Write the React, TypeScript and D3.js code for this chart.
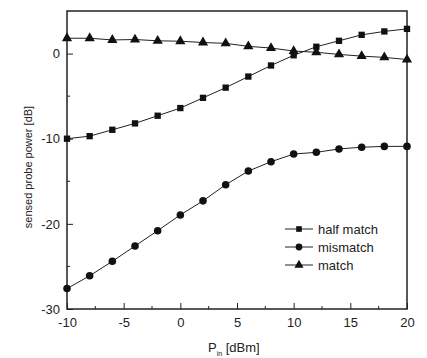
import { useEffect, useRef } from "react";
import * as d3 from "d3";

const pin = [-10, -8, -6, -4, -2, 0, 2, 4, 6, 8, 10, 12, 14, 16, 18, 20];
const halfMatch = [-10.0, -9.7, -8.95, -8.2, -7.3, -6.4, -5.2, -4.0, -2.7, -1.4, -0.2, 0.8, 1.5, 2.2, 2.6, 2.9];
const mismatch = [-27.6, -26.1, -24.4, -22.6, -20.8, -18.95, -17.3, -15.4, -13.8, -12.7, -11.8, -11.6, -11.2, -11.0, -10.9, -10.9];
const match = [1.8, 1.8, 1.6, 1.65, 1.5, 1.45, 1.3, 1.2, 0.85, 0.65, 0.3, 0.15, -0.1, -0.3, -0.45, -0.7];
const seriesNames = ["half match", "mismatch", "match"];
const xTicks = [-10, -5, 0, 5, 10, 15, 20];
const yTicks = [-30, -20, -10, 0];

const App = () => {
  const svgRef = useRef<SVGSVGElement>(null);

  useEffect(() => {
    const width = 427;
    const height = 358;
    const marginLeft = 67;
    const marginRight = 20;
    const marginTop = 11;
    const marginBottom = 49;
    const font = "Liberation Sans, Arial, sans-serif";
    const fs = 13;

    const svg = d3.select(svgRef.current);
    svg.selectAll("*").remove();

    const x = d3.scaleLinear().domain([-10, 20]).range([marginLeft, width - marginRight]);
    const y = d3.scaleLinear().domain([-30, 5]).range([height - marginBottom, marginTop]);

    const color = "#222";
    const symbols = [d3.symbolSquare, d3.symbolCircle, d3.symbolTriangle];
    const sizes = [40, 45, 45];
    const all = [halfMatch, mismatch, match];
    const fmt = (d: number) => String(d);

    // x axis (ticks inward)
    const xAxis = svg.append("g")
      .attr("transform", `translate(0,${height - marginBottom})`)
      .call(d3.axisBottom(x).tickValues(xTicks).tickFormat(fmt as any).tickSizeInner(-6).tickSizeOuter(0).tickPadding(9));
    xAxis.select(".domain").remove();
    xAxis.selectAll("text").attr("font-size", fs).attr("font-family", font).attr("fill", "#222");
    xAxis.selectAll("line").attr("stroke", "#222");
    svg.append("g")
      .selectAll("line")
      .data(d3.range(-7.5, 20, 5))
      .join("line")
      .attr("x1", d => x(d)).attr("x2", d => x(d))
      .attr("y1", height - marginBottom).attr("y2", height - marginBottom - 3)
      .attr("stroke", "#222");

    // y axis
    const yAxis = svg.append("g")
      .attr("transform", `translate(${marginLeft},0)`)
      .call(d3.axisLeft(y).tickValues(yTicks).tickFormat(fmt as any).tickSizeInner(-6).tickSizeOuter(0).tickPadding(7));
    yAxis.select(".domain").remove();
    yAxis.selectAll("text").attr("font-size", fs).attr("font-family", font).attr("fill", "#222");
    yAxis.selectAll("line").attr("stroke", "#222");
    svg.append("g")
      .selectAll("line")
      .data([-25, -15, -5])
      .join("line")
      .attr("x1", marginLeft).attr("x2", marginLeft + 3)
      .attr("y1", d => y(d)).attr("y2", d => y(d))
      .attr("stroke", "#222");

    // frame
    svg.append("rect")
      .attr("x", marginLeft).attr("y", marginTop)
      .attr("width", width - marginLeft - marginRight)
      .attr("height", height - marginTop - marginBottom)
      .attr("fill", "none").attr("stroke", "#222").attr("stroke-width", 1.5);

    const line = d3.line<number>().x((_, i) => x(pin[i])).y(d => y(d));

    all.forEach((vals, k) => {
      svg.append("path")
        .datum(vals)
        .attr("fill", "none")
        .attr("stroke", color)
        .attr("stroke-width", 1)
        .attr("d", line);
      svg.append("g")
        .selectAll("path")
        .data(vals)
        .join("path")
        .attr("transform", (d, i) => `translate(${x(pin[i])},${y(d)})`)
        .attr("d", d3.symbol(symbols[k], sizes[k]))
        .attr("fill", "#111");
    });

    // legend
    const lg = svg.append("g").attr("transform", "translate(285,229)");
    seriesNames.forEach((name, k) => {
      const g = lg.append("g").attr("transform", `translate(0,${k * 18})`);
      g.append("line").attr("x1", 0).attr("x2", 28).attr("y1", 0).attr("y2", 0)
        .attr("stroke", color).attr("stroke-width", 1);
      g.append("path").attr("transform", "translate(14,0)")
        .attr("d", d3.symbol(symbols[k], sizes[k] * 0.8))
        .attr("fill", "#111");
      g.append("text").attr("x", 33).attr("y", 0).attr("dy", "0.35em")
        .attr("font-size", fs).attr("font-family", font).attr("fill", "#222")
        .text(name);
    });

    // axis labels
    const xl = svg.append("text")
      .attr("x", 208).attr("y", 352)
      .attr("font-size", fs).attr("font-family", font).attr("fill", "#222");
    xl.append("tspan").text("P");
    xl.append("tspan").attr("font-size", 7).attr("dy", 4).text("in");
    xl.append("tspan").attr("dy", -4).text(" [dBm]");

    svg.append("text")
      .attr("transform", "translate(32,167) rotate(-90)")
      .attr("text-anchor", "middle")
      .attr("font-size", 11).attr("font-family", font).attr("fill", "#222")
      .text("sensed probe power [dB]");
  }, []);

  return (
    <svg ref={svgRef} width={427} height={358}
      style={{ position: "absolute", left: 0, top: 0, background: "#fff" }} />
  );
};

export default App;
